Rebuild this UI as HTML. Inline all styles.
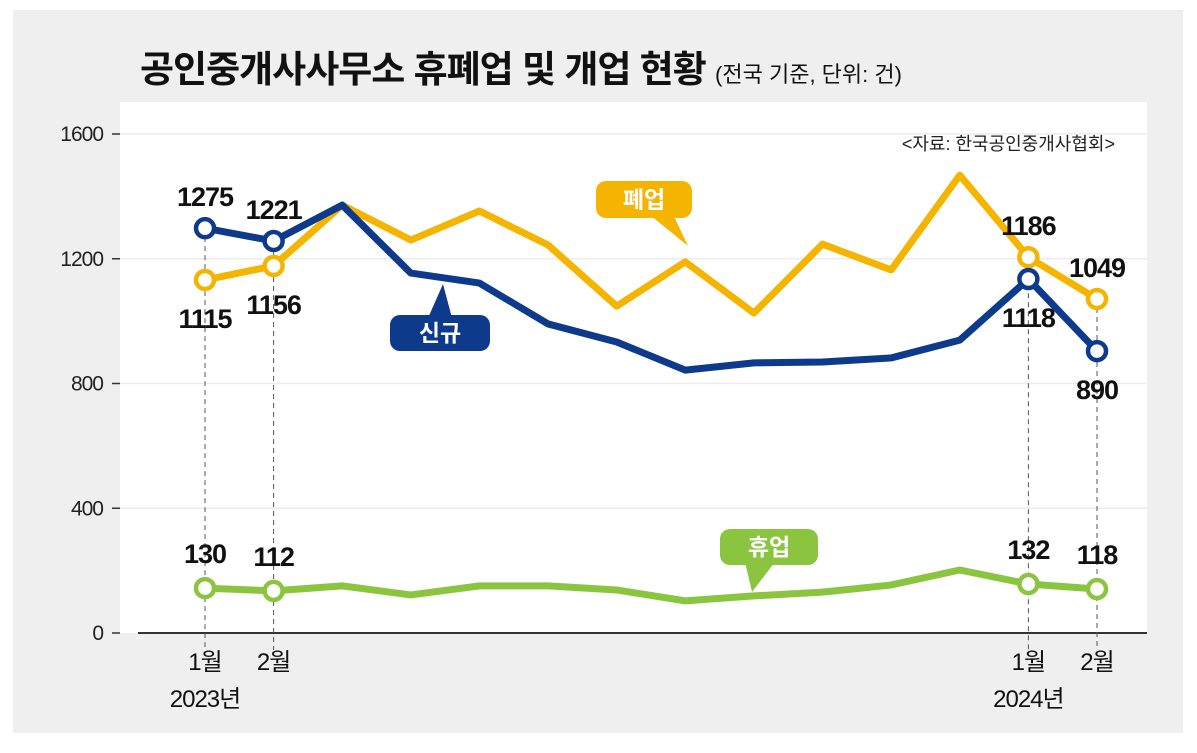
<!DOCTYPE html>
<html><head><meta charset="utf-8">
<style>
body{margin:0;background:#fff;width:1197px;height:748px;overflow:hidden;font-family:"Liberation Sans","Noto Sans CJK KR",sans-serif;}
svg text{font-family:"Liberation Sans","Noto Sans CJK KR",sans-serif;}
</style></head><body>
<svg id="chart" width="1197" height="748">
<rect x="13" y="10" width="1170" height="723" fill="#efefef"/>
<rect x="120" y="102" width="1027" height="531" fill="#fff"/>
<text x="140" y="82" font-size="37" font-weight="bold" fill="#111" letter-spacing="-1">공인중개사사무소 휴폐업 및 개업 현황 <tspan font-size="22" font-weight="normal" letter-spacing="0">(전국 기준, 단위: 건)</tspan></text>
<text x="1115" y="150" font-size="18" text-anchor="end" fill="#222">&lt;자료: 한국공인중개사협회&gt;</text>
<g id="axes"></g><g id="dashes"></g><g id="lines"></g><g id="labels"></g>
</svg>
<script>
const months=["2023-01","2023-02","2023-03","2023-04","2023-05","2023-06","2023-07","2023-08","2023-09","2023-10","2023-11","2023-12","2024-01","2024-02"];
const newOpen=[1298,1257,1372,1154,1122,991,933,843,866,869,882,939,1135,904];
const closed=[1132,1177,1372,1260,1353,1244,1048,1190,1026,1247,1164,1468,1205,1071];
const suspended=[144,135,151,122,151,151,138,103,119,131,154,202,157,141];
const newLabels=["1275","1221","1118","890"];
const closedLabels=["1115","1156","1186","1049"];
const suspLabels=["130","112","132","118"];
const yTicks=[0,400,800,1200,1600];
const xLabelIdx=[0,1,12,13];
const xLabels=["1월","2월","1월","2월"];
const yearLabels=["2023년","2024년"];
const yearIdx=[0,12];
const NS="http://www.w3.org/2000/svg";
const x=i=>205+i*(1097-205)/(months.length-1);
const y=v=>633-v*(633-134)/1600;
function mk(p,t,a){const e=document.createElementNS(NS,t);for(const k in a)e.setAttribute(k,a[k]);document.getElementById(p).appendChild(e);return e;}
yTicks.forEach(v=>{
 if(v>0){const g=mk('axes','line',{x1:120,x2:1147,y1:y(v),y2:y(v),stroke:'#ececec','stroke-width':1.5});
 
 }
 const tk=mk('axes','line',{x1:112,x2:120,y1:y(v),y2:y(v),stroke:'#333','stroke-width':1.5});
 
 
 const t=mk('axes','text',{x:103,y:y(v)+7,'font-size':21,'text-anchor':'end',fill:'#222','letter-spacing':'-1'});t.textContent=v;
 
 
});
const ax=mk('axes','line',{x1:138,x2:1147,y1:633,y2:633,stroke:'#333','stroke-width':2});


xLabelIdx.forEach((i,k)=>{
 const top=Math.min(y(newOpen[i]),y(closed[i]));
 const d=mk('dashes','line',{x1:x(i),x2:x(i),y1:top,y2:650,stroke:'#555','stroke-width':1,'stroke-dasharray':'5,4'});
 
 
 const t=mk('labels','text',{x:x(i),y:670,'font-size':24,'text-anchor':'middle',fill:'#111','letter-spacing':'-1'});t.textContent=xLabels[k];
 
 
});
yearIdx.forEach((i,k)=>{const t=mk('labels','text',{x:x(i),y:707,'font-size':24,'text-anchor':'middle',fill:'#111','letter-spacing':'-1'});t.textContent=yearLabels[k];
 
 });
function series(vals,col,name){
 const p=mk('lines','polyline',{points:vals.map((v,i)=>x(i)+','+y(v)).join(' '),fill:'none',stroke:col,'stroke-width':7,'stroke-linejoin':'round'});
 
 
 xLabelIdx.forEach(i=>{const c=mk('lines','circle',{cx:x(i),cy:y(vals[i]),r:9,fill:'#fff',stroke:col,'stroke-width':4.5});
  
  });
}
series(closed,'#f4b400','closed');
series(newOpen,'#0e3a8c','new');
series(suspended,'#8bc53f','suspended');
function vlab(i,val,txt,dy,name){const t=mk('labels','text',{x:x(i),y:y(val)+dy,'font-size':27,'font-weight':'bold','text-anchor':'middle',fill:'#111','letter-spacing':'-1'});t.textContent=txt;
 
 }
xLabelIdx.forEach((i,k)=>{
 const nAbove=newOpen[i]>=closed[i];
 vlab(i,newOpen[i],newLabels[k],nAbove?-22:48,'new-value-'+months[i]);
 vlab(i,closed[i],closedLabels[k],nAbove?48:-22,'closed-value-'+months[i]);
 vlab(i,suspended[i],suspLabels[k],-25,'suspended-value-'+months[i]);
});
function bubble(bx,by,w,h,col,txt,tail,name){
 const g=mk('labels','path',{d:tail,fill:col});
 
 
 const r=mk('labels','rect',{x:bx,y:by,width:w,height:h,rx:10,fill:col});
 
 
 const t=mk('labels','text',{x:bx+w/2,y:by+h/2+8,'font-size':23,'font-weight':'bold','text-anchor':'middle',fill:'#fff'});t.textContent=txt;
 
 
}
bubble(596,181,96,37,'#f4b400','폐업','M650,215 L688,246 L672,212 Z','closed');
bubble(390,315,100,36,'#0e3a8c','신규','M428,318 L443,284 L452,318 Z','new');
bubble(720,529,98,36,'#8bc53f','휴업','M745,562 L752,592 L775,562 Z','suspended');
</script>
</body></html>
